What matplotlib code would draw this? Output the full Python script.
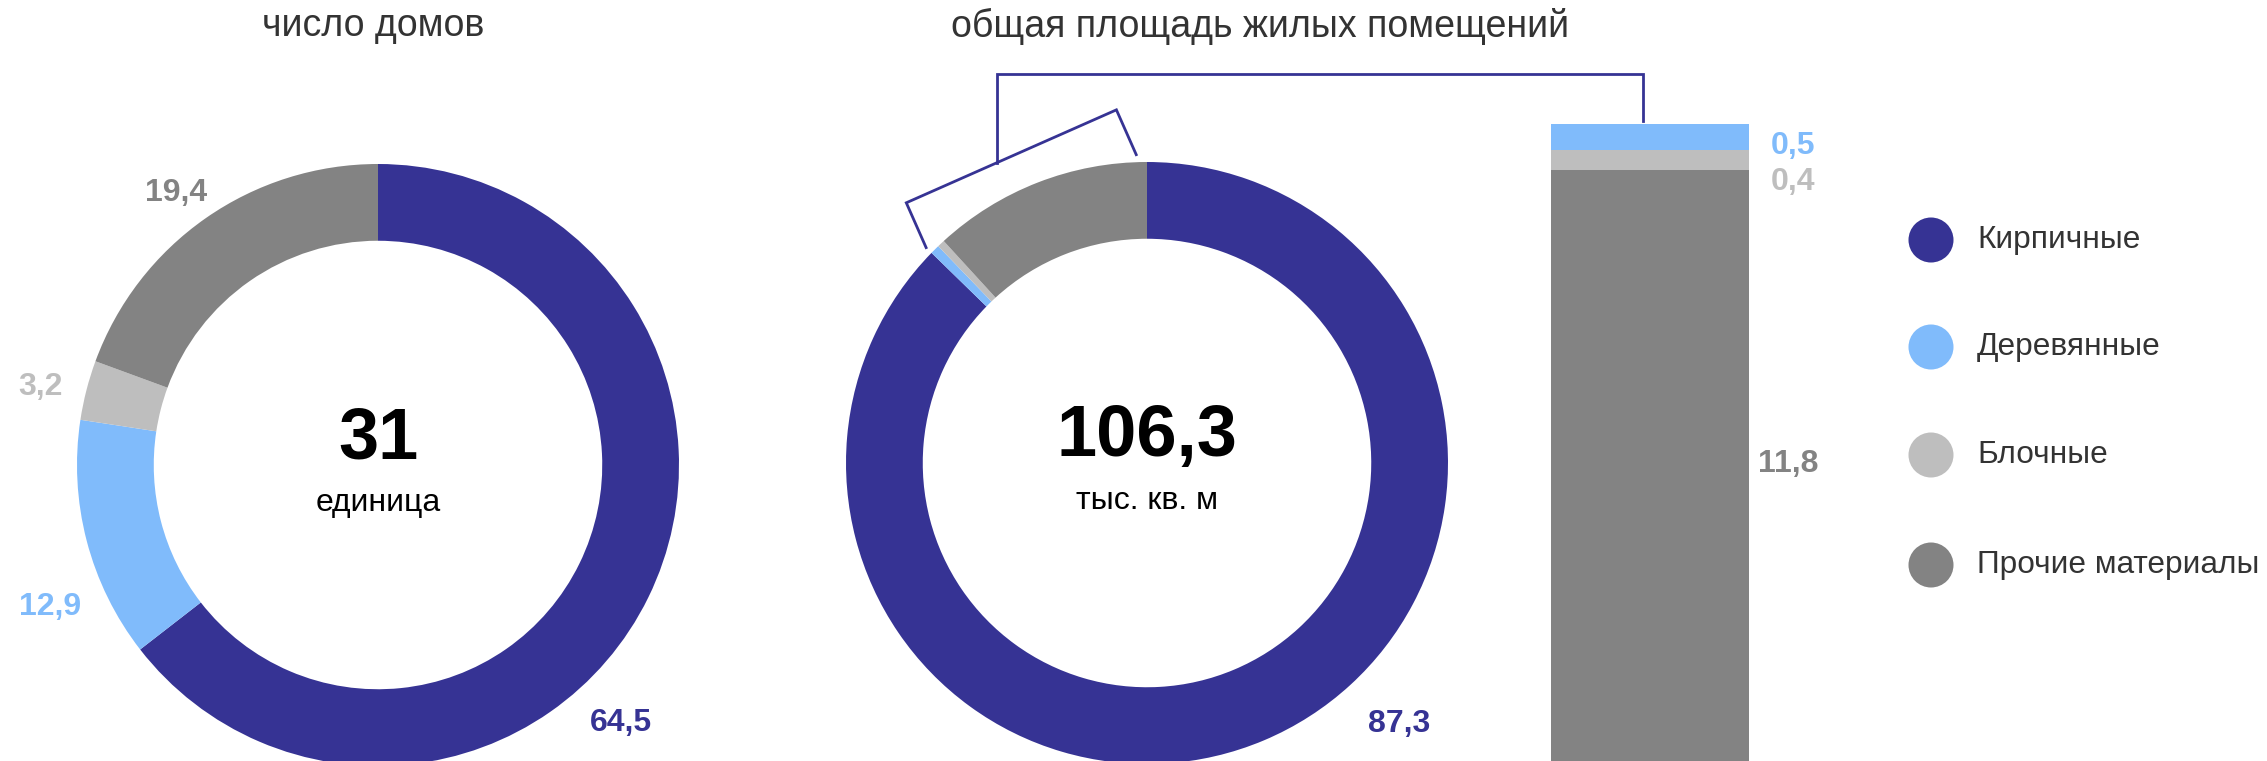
import numpy as np
import matplotlib
matplotlib.use('Agg')
import matplotlib.pyplot as plt

plt.rcParams['font.family'] = ['Liberation Sans', 'DejaVu Sans']

# Data
materials    = ['Кирпичные', 'Деревянные', 'Блочные', 'Прочие материалы']
houses_share = [64.5, 12.9, 3.2, 19.4]
area_share   = [87.3, 0.5, 0.4, 11.8]
houses_total = '31'
houses_unit  = 'единица'
area_total   = '106,3'
area_unit    = 'тыс. кв. м'
titles       = ['число домов', 'общая площадь жилых помещений']

colors   = ['#363394', '#80bbfb', '#bebebe', '#838383']
txt_col  = '#333333'

W, H = 2267, 761
fig = plt.figure(figsize=(W / 100, H / 100), dpi=100)


def px_axes(x0, y0, w, h):
	return fig.add_axes([x0 / W, 1 - (y0 + h) / H, w / W, h / H])


def fmt(v):
	return ('%.1f' % v).replace('.', ',')


R = 301


def donut(cx, cy, values, total, unit):
	ax = px_axes(cx - R, cy - R, 2 * R, 2 * R)
	ax.pie(values, colors=colors, startangle=90, counterclock=False, radius=1,
	       wedgeprops=dict(width=0.255, edgecolor='none', linewidth=0))
	ax.set_xlim(-1, 1)
	ax.set_ylim(-1, 1)
	ax.axis('off')
	ax.text(0, 0.085, total, ha='center', va='center', fontsize=52, fontweight='bold', color='black')
	ax.text(0, -0.125, unit, ha='center', va='center', fontsize=23, color='black')
	return ax


left_c = (378, 465)
mid_c = (1147, 463)
donut(left_c[0], left_c[1], houses_share, houses_total, houses_unit)
donut(mid_c[0], mid_c[1], area_share, area_total, area_unit)

# Stacked bar with the small parts of the area donut
bx = px_axes(1551, 124, 198, 648)
bottom = 0
for i in [3, 2, 1]:
	bx.bar(0, area_share[i], bottom=bottom, width=1, color=colors[i], linewidth=0)
	bottom += area_share[i]
bx.set_xlim(-0.5, 0.5)
bx.set_ylim(0, bottom)
bx.axis('off')

# Overlay in pixel coordinates
ov = fig.add_axes([0, 0, 1, 1])
ov.set_xlim(0, W)
ov.set_ylim(H, 0)
ov.axis('off')

ov.text(373, 26, titles[0], ha='center', va='center', fontsize=27, color=txt_col)
ov.text(1260, 26, titles[1], ha='center', va='center', fontsize=27, color=txt_col)

# value labels
left_pos = [(621, 723), (50, 607), (40, 387), (176, 193)]
for v, c, (x, y) in zip(houses_share, colors, left_pos):
	ov.text(x, y, fmt(v), ha='center', va='center', fontsize=23, fontweight='bold', color=c)

mid_pos = [(1399, 724), (1793, 146), (1793, 182), (1788, 464)]
for v, c, (x, y) in zip(area_share, colors, mid_pos):
	ov.text(x, y, fmt(v), ha='center', va='center', fontsize=23, fontweight='bold', color=c)

# bracket around the small wedges of the area donut
small = sum(area_share[1:]) / sum(area_share) * 360
a0, a1 = np.radians(90 + 2), np.radians(90 + small)
rb = 1.025 * R
cx, cy = mid_c
E0 = np.array([cx + rb * np.cos(a0), cy - rb * np.sin(a0)])
E1 = np.array([cx + rb * np.cos(a1), cy - rb * np.sin(a1)])
d = E1 - E0
n = np.array([d[1], -d[0]]) / np.hypot(*d)
if np.dot(n, (E0 + E1) / 2 - np.array(mid_c)) < 0:
	n = -n
C0 = E0 + 49 * n
C1 = E1 + 49 * n
br = np.array([E1, C1, C0, E0])
lc = colors[0]
ov.plot(br[:, 0], br[:, 1], color=lc, lw=2, solid_joinstyle='miter')

# connector to the bar
P = C1 + 0.43 * (C0 - C1)
ov.plot([P[0], P[0], 1643, 1643], [P[1], 74, 74, 121], color=lc, lw=2, solid_joinstyle='miter')

# legend
leg_y = [240, 347, 455, 565]
ov.scatter([1931] * 4, leg_y, s=1050, c=colors, linewidths=0)
for m, y in zip(materials, leg_y):
	ov.text(1977, y, m, ha='left', va='center', fontsize=22.8, color=txt_col)

plt.savefig('out.png', dpi=100)
